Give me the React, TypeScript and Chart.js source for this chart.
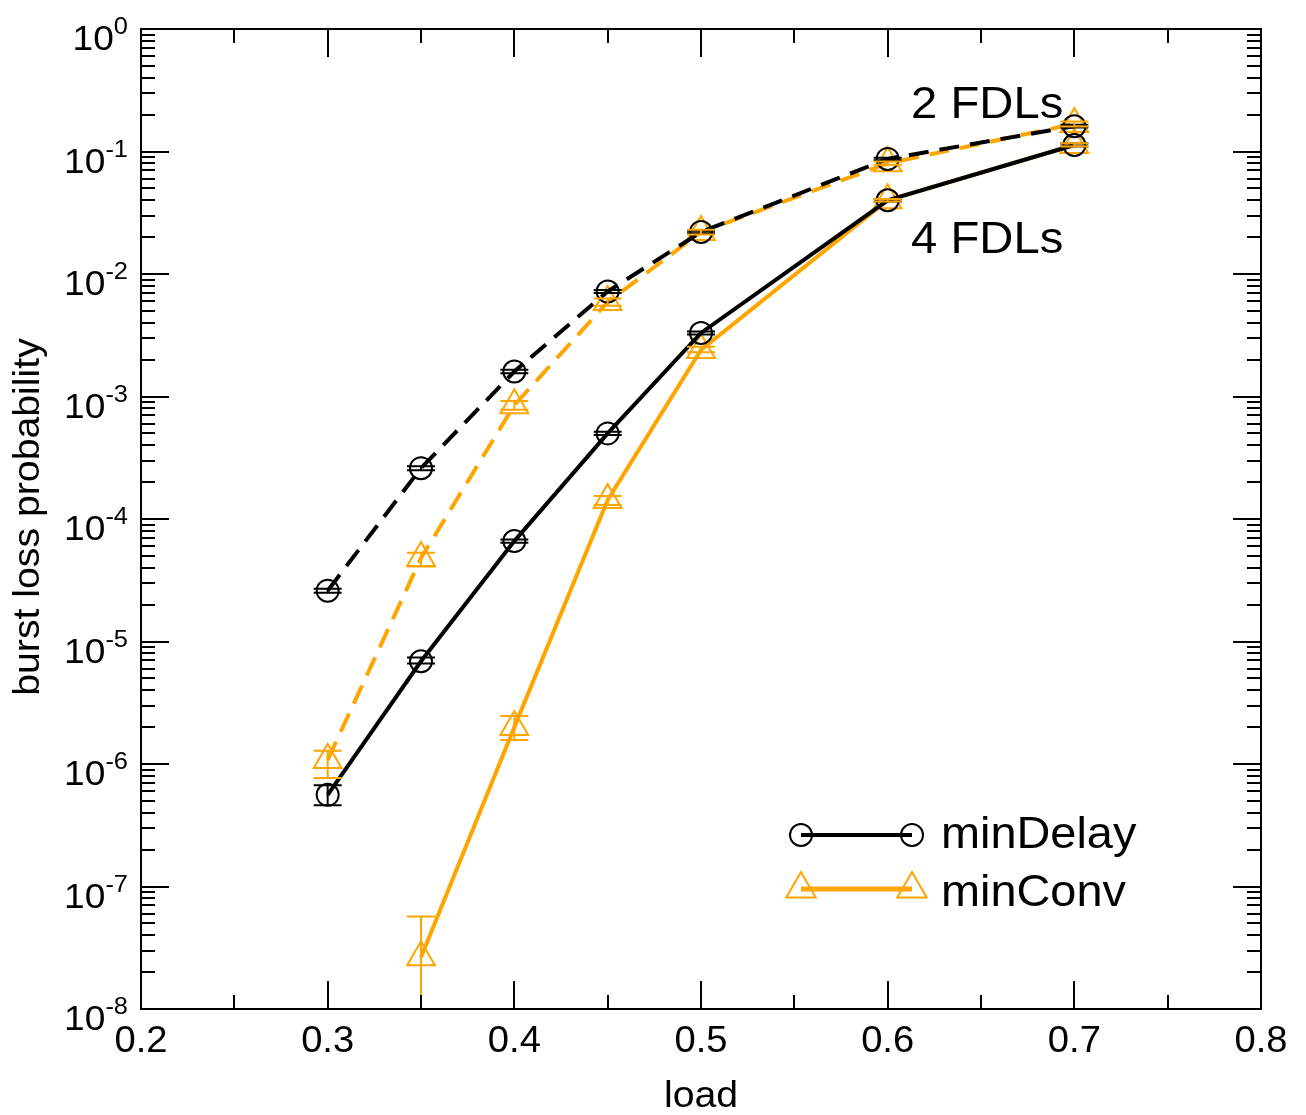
import React, { useEffect, useRef } from 'react';
import { Chart, registerables } from 'chart.js';

Chart.register(...registerables);

// ---------- data ----------
const loads = [0.3, 0.35, 0.4, 0.45, 0.5, 0.6, 0.7];

// 2 FDLs
const minDelay2 = [2.6e-5, 2.6e-4, 1.6e-3, 7.2e-3, 2.2e-2, 8.7e-2, 0.161];
const minDelay2Lo = [2.5e-5, 2.5e-4, 1.55e-3, 7.0e-3, 2.15e-2, 8.5e-2, 0.157];
const minDelay2Hi = [2.7e-5, 2.7e-4, 1.65e-3, 7.4e-3, 2.25e-2, 8.9e-2, 0.165];

const minConv2 = [1.08e-6, 4.8e-5, 8.5e-4, 5.9e-3, 2.2e-2, 8.0e-2, 0.168];
const minConv2Lo = [7.7e-7, 4.1e-5, 7.8e-4, 5.5e-3, 2.1e-2, 7.8e-2, 0.16];
const minConv2Hi = [1.28e-6, 5.3e-5, 9.2e-4, 6.3e-3, 2.3e-2, 8.3e-2, 0.176];

// 4 FDLs
const minDelay4 = [5.6e-7, 6.9e-6, 6.6e-5, 5.0e-4, 3.3e-3, 4.0e-2, 0.113];
const minDelay4Lo = [4.6e-7, 6.6e-6, 6.4e-5, 4.85e-4, 3.2e-3, 3.9e-2, 0.11];
const minDelay4Hi = [6.7e-7, 7.4e-6, 6.8e-5, 5.15e-4, 3.4e-3, 4.1e-2, 0.116];

const minConv4 = [null, 2.65e-8, 2.0e-6, 1.43e-4, 2.4e-3, 4.0e-2, 0.113];
const minConv4Lo = [null, 1e-10, 1.57e-6, 1.3e-4, 2.3e-3, 3.9e-2, 0.11];
const minConv4Hi = [null, 5.7e-8, 2.47e-6, 1.54e-4, 2.55e-3, 4.1e-2, 0.117];

const xTickValues = [0.2, 0.3, 0.4, 0.5, 0.6, 0.7, 0.8];
const xTickLabels = ['0.2', '0.3', '0.4', '0.5', '0.6', '0.7', '0.8'];
const xMinorTicks = [0.25, 0.35, 0.45, 0.55, 0.65, 0.75];
const yDecades = [0, -1, -2, -3, -4, -5, -6, -7, -8];
const yTickExponents = ['0', '-1', '-2', '-3', '-4', '-5', '-6', '-7', '-8'];

const legendNames = ['minDelay', 'minConv'];
const annotationTexts = ['2 FDLs', '4 FDLs'];
const xTitle = 'load';
const yTitle = 'burst loss probability';

const BLACK = '#000000';
const ORANGE = '#FFA500';
const FONT = '"Liberation Sans", Arial, Helvetica, sans-serif';
const SX = 1.06;

const seriesList = [
  { values: minDelay2, lo: minDelay2Lo, hi: minDelay2Hi, color: BLACK, style: 'circle', dash: [20, 11] },
  { values: minConv2, lo: minConv2Lo, hi: minConv2Hi, color: ORANGE, style: 'triangle', dash: [20, 11] },
  { values: minDelay4, lo: minDelay4Lo, hi: minDelay4Hi, color: BLACK, style: 'circle', dash: [] as number[] },
  { values: minConv4, lo: minConv4Lo, hi: minConv4Hi, color: ORANGE, style: 'triangle', dash: [] as number[] },
];

const W = 1298;
const H = 1107;

function drawTriangle(ctx: CanvasRenderingContext2D, x: number, y: number, r: number) {
  ctx.beginPath();
  ctx.moveTo(x, y - r);
  ctx.lineTo(x + r * Math.sin(Math.PI * 2 / 3), y - r * Math.cos(Math.PI * 2 / 3));
  ctx.lineTo(x + r * Math.sin(Math.PI * 4 / 3), y - r * Math.cos(Math.PI * 4 / 3));
  ctx.closePath();
  ctx.stroke();
}

// text with slight horizontal stretch; align handled manually
function text(ctx: CanvasRenderingContext2D, s: string, x: number, y: number, align: 'left' | 'center' | 'right', sx = SX) {
  const w = ctx.measureText(s).width * sx;
  let x0 = x;
  if (align === 'center') x0 = x - w / 2;
  else if (align === 'right') x0 = x - w;
  ctx.save();
  ctx.textAlign = 'left';
  ctx.translate(x0, y);
  ctx.scale(sx, 1);
  ctx.fillText(s, 0, 0);
  ctx.restore();
  return w;
}

const decorPlugin = {
  id: 'decor',
  afterDatasetsDraw(chart: any) {
    const ctx: CanvasRenderingContext2D = chart.ctx;
    const { left, right, top, bottom } = chart.chartArea;
    const xs = chart.scales.x;
    const ys = chart.scales.y;
    ctx.save();
    ctx.beginPath();
    ctx.rect(left, top, right - left, bottom - top);
    ctx.clip();
    seriesList.forEach((s) => {
      ctx.strokeStyle = s.color;
      ctx.lineWidth = 2;
      ctx.setLineDash([]);
      s.values.forEach((v, i) => {
        if (v == null) return;
        const x = xs.getPixelForValue(loads[i]);
        const y1 = ys.getPixelForValue(s.lo[i] as number);
        const y2 = ys.getPixelForValue(s.hi[i] as number);
        ctx.beginPath();
        ctx.moveTo(x, y1);
        ctx.lineTo(x, y2);
        ctx.moveTo(x - 14, y1);
        ctx.lineTo(x + 14, y1);
        ctx.moveTo(x - 14, y2);
        ctx.lineTo(x + 14, y2);
        ctx.stroke();
      });
    });
    ctx.restore();
  },
  afterDraw(chart: any) {
    const ctx: CanvasRenderingContext2D = chart.ctx;
    const { left, right, top, bottom } = chart.chartArea;
    const xs = chart.scales.x;
    const ys = chart.scales.y;
    ctx.save();
    ctx.setLineDash([]);
    ctx.strokeStyle = BLACK;
    ctx.fillStyle = BLACK;
    ctx.lineWidth = 2;
    ctx.strokeRect(left, top, right - left, bottom - top);

    const MAJ = 28;
    const MIN = 14;
    ctx.beginPath();
    xTickValues.forEach((v) => {
      const x = Math.round(xs.getPixelForValue(v));
      ctx.moveTo(x, bottom); ctx.lineTo(x, bottom - MAJ);
      ctx.moveTo(x, top); ctx.lineTo(x, top + MAJ);
    });
    xMinorTicks.forEach((v) => {
      const x = Math.round(xs.getPixelForValue(v));
      ctx.moveTo(x, bottom); ctx.lineTo(x, bottom - MIN);
      ctx.moveTo(x, top); ctx.lineTo(x, top + MIN);
    });
    yDecades.forEach((d) => {
      const y = Math.round(ys.getPixelForValue(Math.pow(10, d)));
      ctx.moveTo(left, y); ctx.lineTo(left + MAJ, y);
      ctx.moveTo(right, y); ctx.lineTo(right - MAJ, y);
      if (d > -8) {
        for (let k = 2; k <= 9; k++) {
          const ym = Math.round(ys.getPixelForValue(k * Math.pow(10, d - 1)));
          ctx.moveTo(left, ym); ctx.lineTo(left + MIN, ym);
          ctx.moveTo(right, ym); ctx.lineTo(right - MIN, ym);
        }
      }
    });
    ctx.stroke();

    ctx.textBaseline = 'alphabetic';
    // x tick labels
    ctx.font = `36px ${FONT}`;
    xTickValues.forEach((v, i) => {
      text(ctx, xTickLabels[i], xs.getPixelForValue(v), bottom + 43, 'center');
    });

    // y tick labels 10^n
    yDecades.forEach((d, i) => {
      const y = ys.getPixelForValue(Math.pow(10, d));
      const rx = left - 13;
      ctx.font = `24px ${FONT}`;
      const ew = text(ctx, yTickExponents[i], rx, y + 5, 'right');
      ctx.font = `35px ${FONT}`;
      text(ctx, '10', rx - ew, y + 21, 'right');
    });

    // axis titles
    ctx.font = `37px ${FONT}`;
    text(ctx, xTitle, (left + right) / 2, 1099, 'center');
    ctx.save();
    ctx.translate(31, 509);
    ctx.rotate(-Math.PI / 2);
    text(ctx, yTitle, 0, 0, 'center');
    ctx.restore();

    // annotations
    ctx.font = `45px ${FONT}`;
    text(ctx, annotationTexts[0], 903, 110, 'left', 1.05);
    text(ctx, annotationTexts[1], 903, 245, 'left', 1.05);

    // legend
    ctx.lineWidth = 4;
    ctx.strokeStyle = BLACK;
    ctx.beginPath();
    ctx.moveTo(793, 827); ctx.lineTo(904, 827);
    ctx.stroke();
    ctx.lineWidth = 2;
    [793, 904].forEach((x) => {
      ctx.beginPath();
      ctx.arc(x, 827, 11, 0, Math.PI * 2);
      ctx.stroke();
    });
    ctx.strokeStyle = ORANGE;
    ctx.lineWidth = 5;
    ctx.beginPath();
    ctx.moveTo(793, 881); ctx.lineTo(904, 881);
    ctx.stroke();
    ctx.lineWidth = 2;
    [793, 904].forEach((x) => drawTriangle(ctx, x, 881, 17));
    ctx.fillStyle = BLACK;
    ctx.font = `44px ${FONT}`;
    text(ctx, legendNames[0], 933, 840, 'left', 1.065);
    text(ctx, legendNames[1], 933, 898, 'left', 1.065);
    ctx.restore();
  },
};

export default function App() {
  const ref = useRef<HTMLCanvasElement | null>(null);
  useEffect(() => {
    if (!ref.current) return;
    const datasets = seriesList.map((s) => ({
      data: loads
        .map((x, i) => ({ x, y: s.values[i] }))
        .filter((p) => p.y != null),
      borderColor: s.color,
      backgroundColor: 'transparent',
      borderWidth: 4,
      borderDash: s.dash,
      pointStyle: s.style,
      pointRadius: s.style === 'circle' ? 11 : 16,
      pointBorderWidth: 2,
      pointBorderColor: s.color,
      pointBackgroundColor: 'transparent',
      tension: 0,
      clip: false as any,
    }));
    const chart = new Chart(ref.current, {
      type: 'line',
      data: { datasets: datasets as any },
      options: {
        responsive: false,
        animation: false,
        devicePixelRatio: 1,
        layout: { padding: { left: 133, top: 21, right: W - 1253, bottom: H - 1001 } },
        plugins: { legend: { display: false }, tooltip: { enabled: false } },
        scales: {
          x: { type: 'linear', min: 0.2, max: 0.8, display: false },
          y: { type: 'logarithmic', min: 1e-8, max: 1, display: false },
        },
      },
      plugins: [decorPlugin as any],
    });
    return () => chart.destroy();
  }, []);
  return <canvas ref={ref} width={W} height={H} style={{ display: 'block' }} />;
}
